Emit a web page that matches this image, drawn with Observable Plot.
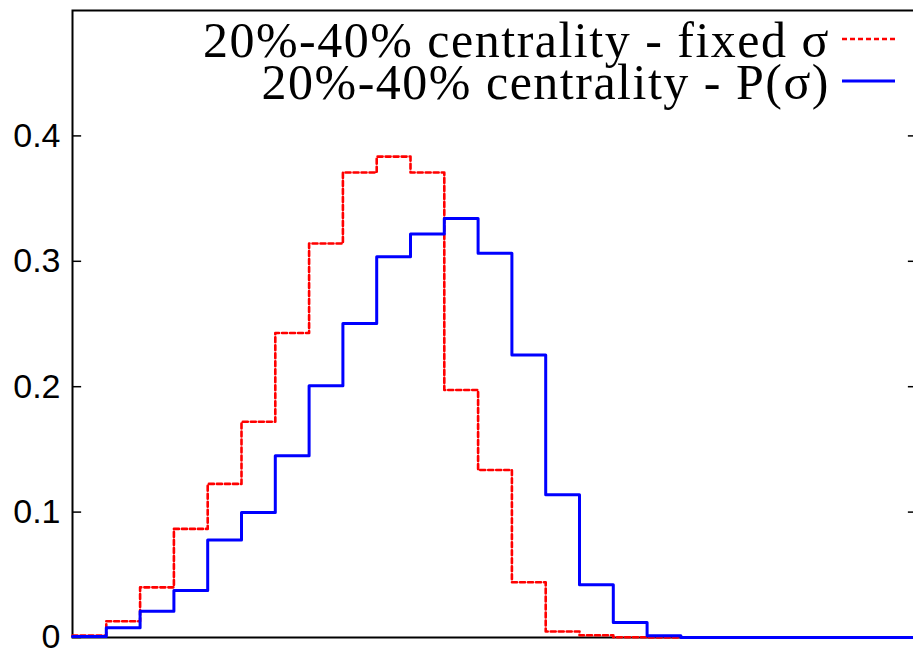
<!DOCTYPE html>
<html>
<head>
<meta charset="utf-8">
<script src="https://cdn.jsdelivr.net/npm/d3@7"></script>
<script src="https://cdn.jsdelivr.net/npm/@observablehq/plot@0.6"></script>
<style>
  html, body { margin: 0; padding: 0; background: white; }
  #wrap { position: relative; width: 913px; height: 656px; overflow: hidden; }
  #legend { position: absolute; left: 0; top: 0; pointer-events: none; }
</style>
</head>
<body>
<div id="wrap"></div>
<script>
// bin index (histogram bins, left edges)
const bins = [0,1,2,3,4,5,6,7,8,9,10,11,12,13,14,15,16,17,18,19,20,21,22,23,24];
// 20%-40% centrality - fixed sigma
const fixedSigma = [0.0016,0.013,0.040,0.0866,0.1225,0.172,0.2428,0.3142,0.3708,0.3835,0.3708,0.1974,0.1336,0.0441,0.0048,0.0018,0.0002,0,0,0,0,0,0,0,0];
// 20%-40% centrality - P(sigma)
const pSigma = [0.0008,0.0077,0.021,0.0375,0.0778,0.0996,0.145,0.2008,0.2504,0.3036,0.3217,0.3341,0.3065,0.2253,0.1139,0.042,0.012,0.0014,0,0,0,0,0,0,0];
const yTicks = [0, 0.1, 0.2, 0.3, 0.4];
const yTickLabels = ["0", "0.1", "0.2", "0.3", "0.4"];
const seriesNames = ["20%-40% centrality - fixed \u03c3", "20%-40% centrality - P(\u03c3)"];
const seriesColors = ["#ff0000", "#0000ff"];

function steps(values) {
  const pts = bins.map((b, i) => ({x: b, y: values[i]}));
  pts.push({x: bins[bins.length - 1] + 1, y: values[values.length - 1]});
  return pts;
}
const nBins = bins.length;
const tickLen = 0.27;

const chart = Plot.plot({
  width: 913,
  height: 656,
  marginLeft: 72,
  marginRight: -4,
  marginTop: 10,
  marginBottom: 19,
  x: {domain: [0, nBins], axis: null, label: null},
  y: {domain: [0, 0.5], axis: null, label: null},
  style: {background: "white", fontFamily: "'Liberation Sans', Arial, sans-serif"},
  marks: [
    Plot.frame({stroke: "black", strokeWidth: 2}),
    Plot.axisY({ticks: yTicks, tickFormat: (d) => yTickLabels[yTicks.indexOf(d)], tickSize: 0, tickPadding: 12, fontSize: 34, label: null, fill: "black"}),
    Plot.ruleY(yTicks, {x1: 0, x2: tickLen, stroke: "black", strokeWidth: 1.5}),
    Plot.ruleY(yTicks, {x1: nBins - tickLen, x2: nBins, stroke: "black", strokeWidth: 1.5}),
    Plot.line(steps(fixedSigma), {x: "x", y: "y", curve: "step-after", stroke: seriesColors[0], strokeWidth: 2.6, strokeDasharray: "5,3"}),
    Plot.line(steps(pSigma), {x: "x", y: "y", curve: "step-after", stroke: seriesColors[1], strokeWidth: 3})
  ]
});
document.getElementById("wrap").appendChild(chart);

// legend overlay
const ns = "http://www.w3.org/2000/svg";
const leg = document.createElementNS(ns, "svg");
leg.setAttribute("id", "legend");
leg.setAttribute("width", 913);
leg.setAttribute("height", 120);
seriesNames.forEach((name, i) => {
  const base = 57 + i * 42;
  const t = document.createElementNS(ns, "text");
  t.setAttribute("x", 830);
  t.setAttribute("y", base);
  t.setAttribute("text-anchor", "end");
  t.setAttribute("font-family", "'Liberation Serif', 'Times New Roman', serif");
  t.setAttribute("font-size", 50);
  t.setAttribute("letter-spacing", "1.5");
  t.setAttribute("fill", "black");
  t.textContent = name;
  leg.appendChild(t);
  const l = document.createElementNS(ns, "line");
  l.setAttribute("x1", 842);
  l.setAttribute("x2", 895);
  l.setAttribute("y1", 39 + i * 42);
  l.setAttribute("y2", 39 + i * 42);
  l.setAttribute("stroke", seriesColors[i]);
  l.setAttribute("stroke-width", i === 0 ? 2.6 : 3);
  if (i === 0) l.setAttribute("stroke-dasharray", "5,3");
  leg.appendChild(l);
});
document.getElementById("wrap").appendChild(leg);
</script>
</body>
</html>
